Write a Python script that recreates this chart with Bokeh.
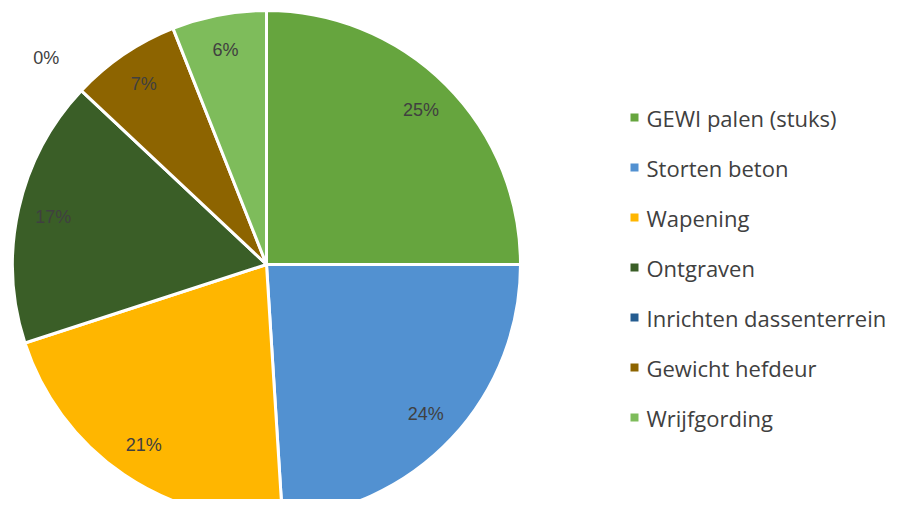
import math
from bokeh.plotting import figure
from bokeh.models import Range1d, ColumnDataSource
from bokeh.core.properties import value
from bokeh.embed import file_html
from bokeh.resources import INLINE

categories = ["GEWI palen (stuks)", "Storten beton", "Wapening", "Ontgraven",
              "Inrichten dassenterrein", "Gewicht hefdeur", "Wrijfgording"]
shares = [25.0, 24.0, 21.0, 17.0, 0.0, 7.0, 6.0]
colors = ["#66A53E", "#5291D1", "#FFB600", "#3A5E27", "#245C90", "#8D6400", "#7EBC5B"]

W, H = 889, 499
p = figure(width=W, height=H, output_backend="svg", toolbar_location=None,
           x_range=Range1d(0, W), y_range=Range1d(-H, 0), min_border=0,
           outline_line_color=None)
p.axis.visible = False
p.grid.visible = False

cx, cy, R = 266, -264, 254
total = sum(shares)
cum = 0.0
ws = dict(start=[], end=[], color=[])
lx, ly, lt = [], [], []
for name, v, c in zip(categories, shares, colors):
    f0 = cum / total
    f1 = (cum + v) / total
    cum += v
    a0 = math.pi / 2 - 2 * math.pi * f0
    a1 = math.pi / 2 - 2 * math.pi * f1
    if v > 0:
        ws["start"].append(a0)
        ws["end"].append(a1)
        ws["color"].append(c)
    mid = (a0 + a1) / 2
    r = 0.86 * R if v >= 1 else 1.19 * R
    lx.append(cx + r * math.cos(mid))
    ly.append(cy + r * math.sin(mid))
    lt.append(f"{round(v / total * 100)}%")

p.wedge(x=cx, y=cy, radius=R, start_angle="start", end_angle="end", direction="clock",
        fill_color="color", line_color="white", line_width=3, source=ColumnDataSource(ws))

p.text(x=lx, y=ly, text=lt, text_align="center", text_baseline="middle",
       text_font=value("Liberation Sans"), text_font_size="18px", text_color="#404040")

# legend
leg_x, leg_y0, leg_dy = 634, -117, -50
mx = [leg_x] * len(categories)
my = [leg_y0 + i * leg_dy for i in range(len(categories))]
p.scatter(x=mx, y=my, marker="square", size=8, fill_color=colors, line_color=None)
p.text(x=[leg_x + 12] * len(categories), y=my, text=categories, text_baseline="middle",
       text_font=value("Open Sans"), text_font_size="22px", text_color="#404040")

open("out.html", "w").write(file_html(p, INLINE))
